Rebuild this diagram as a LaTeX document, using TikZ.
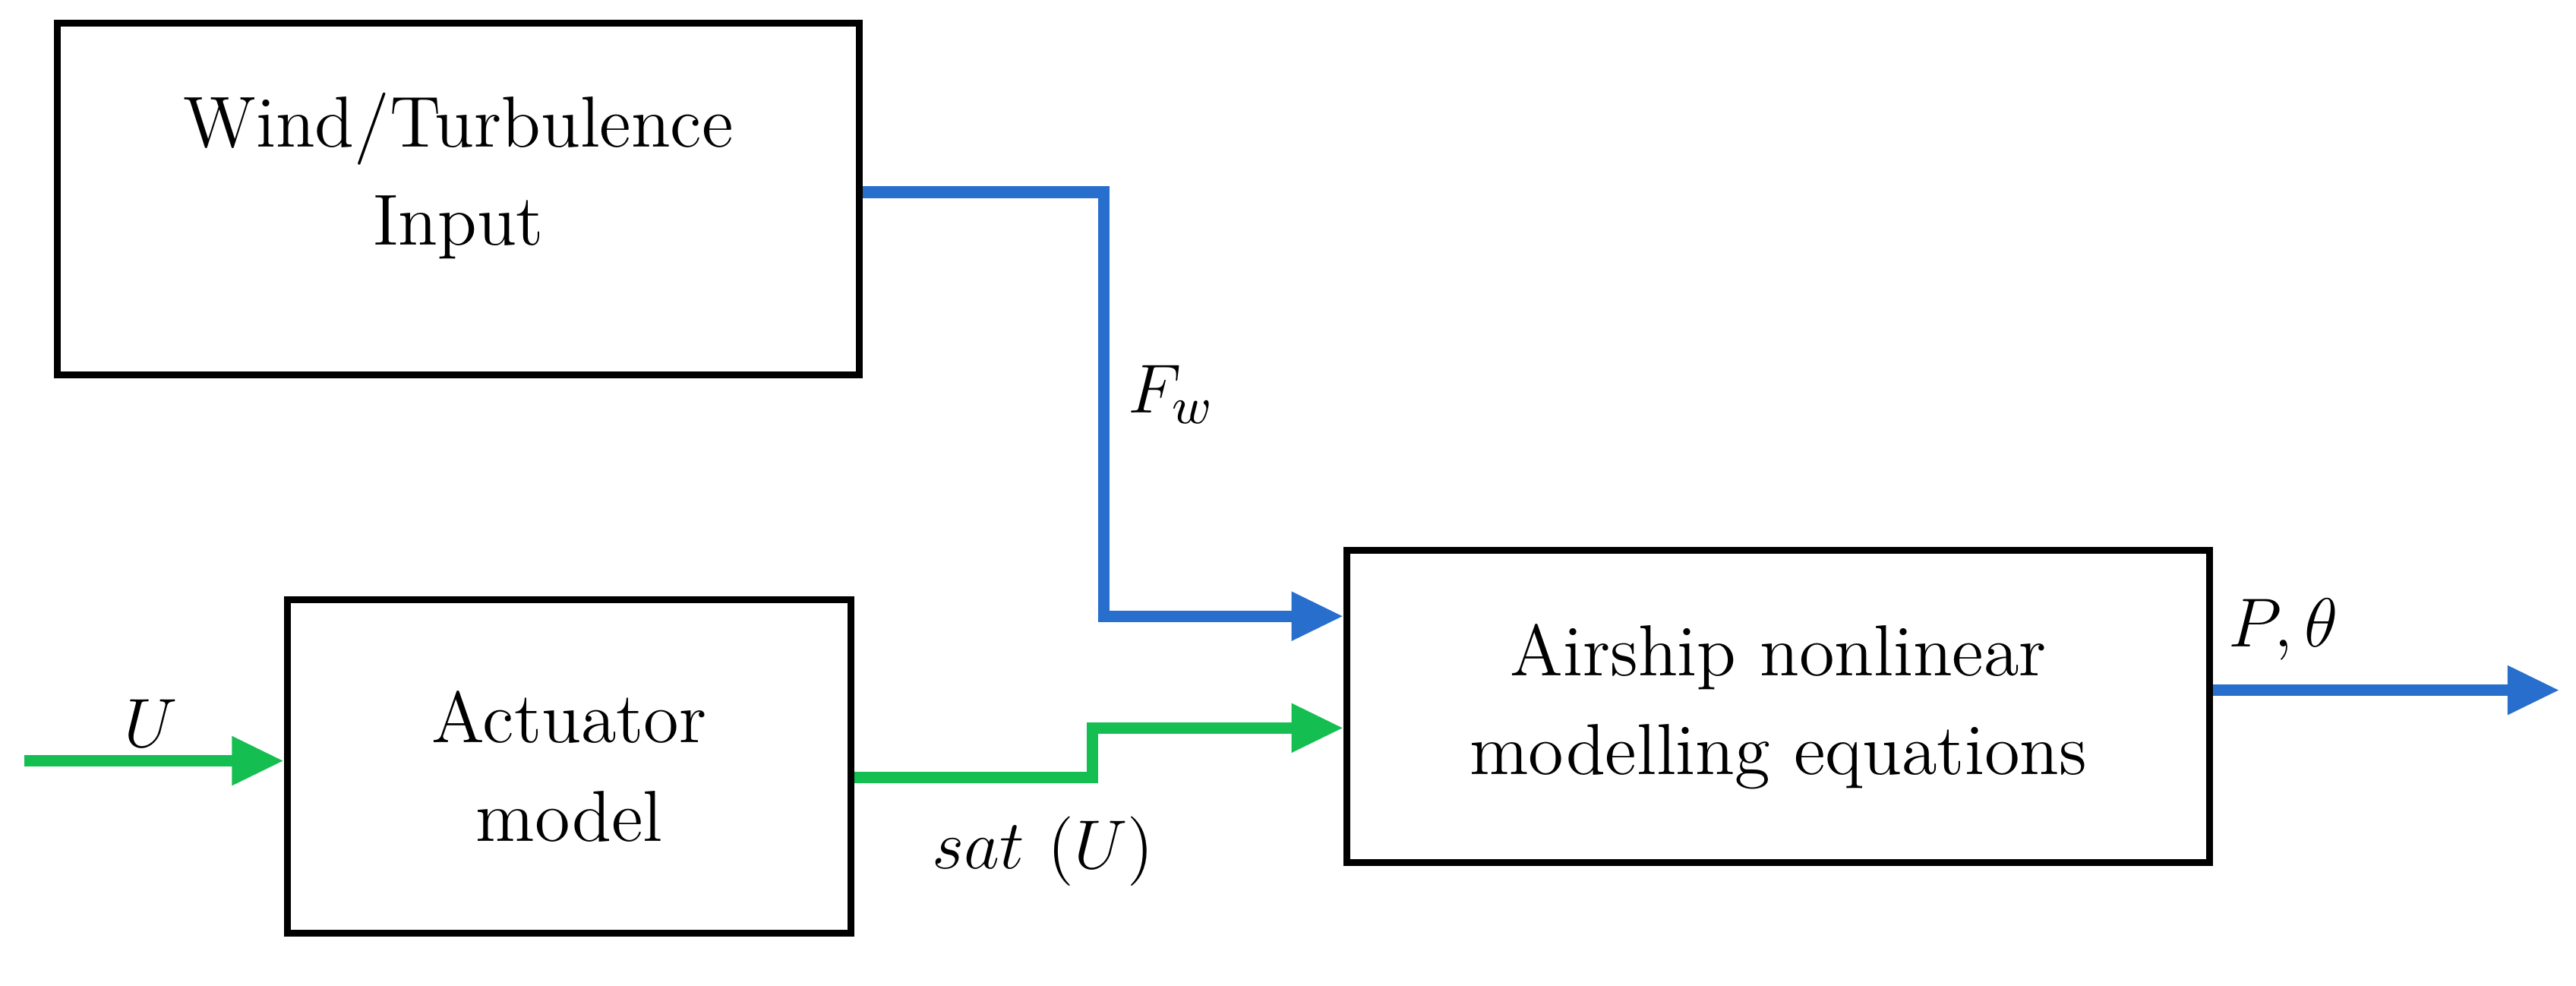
\documentclass[tikz,border=0pt]{standalone}
\usetikzlibrary{arrows.meta}
\definecolor{wblue}{RGB}{40,110,205}
\definecolor{wgreen}{RGB}{20,190,80}
\begin{document}
\begin{tikzpicture}[x=0.01cm,y=-0.01cm,
  blk/.style={draw,line width=1.2pt,inner sep=0,align=center,font=\fontsize{12.5}{17}\selectfont},
  conn/.style={line width=2pt,-{Triangle[length=9pt,width=8pt]}},
  lbl/.style={font=\fontsize{12.5}{15}\selectfont}]
\useasboundingbox (0,0) rectangle (1568,600);
\node[blk,minimum width=4.88cm,minimum height=2.14cm] (wt) at (279,121) {};
\node[blk,draw=none] (wtt) at (279,107) {Wind/Turbulence\\Input};
\node[blk,minimum width=3.43cm,minimum height=2.03cm] (at) at (346.5,466.5) {Actuator\\model};
\node[blk,minimum width=5.25cm,minimum height=1.90cm] (ai) at (1082.5,430) {Airship nonlinear\\modelling equations};
\coordinate (b1) at (672,117);
\coordinate (b2) at (672,375);
\draw[conn,wblue] (wt.east |- b1) -- (b1) -- (b2) -- (ai.west |- b2);
\node[lbl] (fw) at (713,240) {$F_w$};
\coordinate (u0) at (15,463);
\draw[conn,wgreen] (u0) -- (at.west |- u0);
\node[lbl] (ul) at (92,440) {$U$};
\coordinate (g1) at (665,473);
\coordinate (g2) at (665,443);
\draw[conn,wgreen] (at.east |- g1) -- (g1) -- (g2) -- (ai.west |- g2);
\node[lbl] (sl) at (635,518) {$sat\ (U)$};
\coordinate (o0) at (1345,420);
\coordinate (o1) at (1558,420);
\draw[conn,wblue] (ai.east |- o0) -- (o1);
\node[lbl] (pl) at (1390,383) {$P,\theta$};
\end{tikzpicture}
\end{document}
